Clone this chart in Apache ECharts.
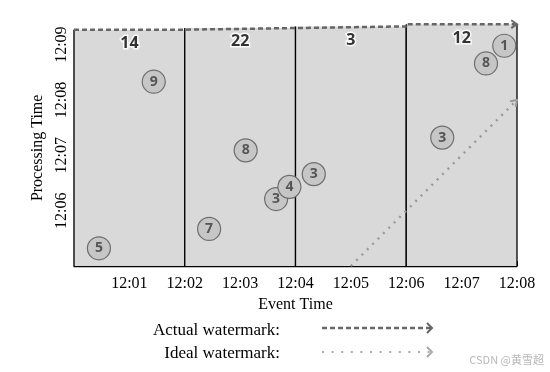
<!DOCTYPE html>
<html><head><meta charset="utf-8">
<script src="https://cdn.jsdelivr.net/npm/echarts@6/dist/echarts.min.js"></script>
<style>html,body{margin:0;padding:0;background:#fff}#c{width:550px;height:372px}</style>
</head><body><div id="c"></div>
<script>
// minutes after 12:00
const xTickLabels = ['', '12:01', '12:02', '12:03', '12:04', '12:05', '12:06', '12:07', '12:08'];
const yTickLabels = { 5: '', 6: '12:06', 7: '12:07', 8: '12:08', 9: '12:09' };
const windowStarts = [0, 2, 4, 6];
const windowEnds = [2, 4, 6, 8];
const windowTops = [9.27, 9.30, 9.33, 9.37];   // actual watermark height per window
const windowSums = [14, 22, 3, 12];
const eventX = [0.45, 1.44, 2.44, 3.10, 3.65, 3.89, 4.33, 6.65, 7.44, 7.77];
const eventY = [5.32, 8.33, 5.67, 7.09, 6.21, 6.43, 6.66, 7.32, 8.66, 8.98];
const eventValues = [5, 9, 7, 8, 3, 4, 3, 3, 8, 1];
const idealX = [5, 8];
const idealY = [5, 8];

const SERIF = '"Liberation Serif", "DejaVu Serif", serif';
const SANS = '"Open Sans", "Noto Sans", sans-serif';

const windowsData = windowStarts.map((s, i) => [s, windowEnds[i], windowTops[i]]);
const actualData = [];
windowStarts.forEach((s, i) => { actualData.push([s, windowTops[i]]); actualData.push([windowEnds[i], windowTops[i]]); });
const idealData = idealX.map((x, i) => [x, idealY[i]]);
const eventsData = eventX.map((x, i) => [x, eventY[i], eventValues[i]]);
const sumsData = windowStarts.map((s, i) => [(s + windowEnds[i]) / 2, windowTops[i] - 0.25, windowSums[i]]);
const arrowData = [
  [actualData[actualData.length - 2], actualData[actualData.length - 1], '#6b6b6b'],
  [idealData[0], idealData[1], '#9a9a9a']
];

const chart = echarts.init(document.getElementById('c'), null, { renderer: 'canvas' });
chart.setOption({
  animation: false,
  backgroundColor: '#fff',
  grid: { left: 74, right: 33, top: 29.7, bottom: 106 },
  xAxis: {
    type: 'value', min: 0, max: 8, interval: 1,
    name: 'Event Time', nameLocation: 'middle', nameGap: 29,
    nameTextStyle: { fontFamily: SERIF, fontSize: 16, color: '#000' },
    axisLine: { show: true, lineStyle: { color: '#000', width: 1.3 } },
    axisTick: { show: true, inside: true, length: 5, lineStyle: { color: '#000', width: 1 } },
    axisLabel: { formatter: v => xTickLabels[v] || '', fontFamily: SERIF, fontSize: 16, color: '#000', margin: 10 },
    splitLine: { show: false }
  },
  yAxis: {
    type: 'value', min: 5, max: 9.27, interval: 1,
    name: 'Processing Time', nameLocation: 'middle', nameGap: 28,
    nameTextStyle: { fontFamily: SERIF, fontSize: 16, color: '#000' },
    axisLine: { show: true, lineStyle: { color: '#000', width: 1.3 } },
    axisTick: { show: true, inside: true, length: 5, lineStyle: { color: '#000', width: 1 } },
    axisLabel: { formatter: v => yTickLabels[v] !== undefined ? yTickLabels[v] : '', rotate: 90, fontFamily: SERIF, fontSize: 16, color: '#000', margin: 4, showMinLabel: false },
    splitLine: { show: false }
  },
  series: [
    {
      type: 'custom', name: 'windows', clip: false, z: 1,
      data: windowsData,
      renderItem: (params, api) => {
        const p0 = api.coord([api.value(0), api.value(2)]);
        const p1 = api.coord([api.value(1), 5]);
        return {
          type: 'group',
          children: [
            { type: 'rect', shape: { x: p0[0], y: p0[1], width: p1[0] - p0[0], height: p1[1] - p0[1] },
              style: { fill: '#d9d9d9' } },
            { type: 'line', shape: { x1: p0[0], y1: p0[1], x2: p0[0], y2: p1[1] }, style: { stroke: '#000', lineWidth: 1.3 } },
            { type: 'line', shape: { x1: p1[0], y1: p0[1], x2: p1[0], y2: p1[1] }, style: { stroke: '#000', lineWidth: 1.3 } }
          ]
        };
      }
    },
    {
      type: 'line', name: 'Actual watermark', data: actualData, clip: false, z: 3,
      symbol: 'none', lineStyle: { color: '#666666', width: 2.5, type: [5, 3] }
    },
    {
      type: 'line', name: 'Ideal watermark', data: idealData, clip: false, z: 3,
      symbol: 'none', lineStyle: { color: '#999999', width: 2.4, type: [2, 5.6] }
    },
    {
      type: 'custom', name: 'arrows', clip: false, z: 4,
      data: arrowData.map(a => [a[0][0], a[0][1], a[1][0], a[1][1]]),
      renderItem: (params, api) => {
        const a = api.coord([api.value(0), api.value(1)]);
        const b = api.coord([api.value(2), api.value(3)]);
        const ang = Math.atan2(b[1] - a[1], b[0] - a[0]);
        const L = 7, w = 0.6;
        const p1 = [b[0] - L * Math.cos(ang - w), b[1] - L * Math.sin(ang - w)];
        const p2 = [b[0] - L * Math.cos(ang + w), b[1] - L * Math.sin(ang + w)];
        return { type: 'polyline', shape: { points: [p1, b, p2] },
          style: { stroke: arrowData[params.dataIndex][2], lineWidth: 2, fill: null } };
      }
    },
    {
      type: 'scatter', name: 'events', data: eventsData, z: 5,
      symbolSize: 23,
      itemStyle: { color: '#c6c6c6', borderColor: '#6e6e6e', borderWidth: 1.2, opacity: 1 },
      label: { show: true, position: 'inside', formatter: p => p.value[2], fontFamily: SANS, fontWeight: 'bold', fontSize: 14, color: '#555' }
    },
    {
      type: 'scatter', name: 'sums', data: sumsData, z: 6, clip: false,
      symbolSize: 1, itemStyle: { color: 'rgba(0,0,0,0)' },
      label: { show: true, position: 'inside', formatter: p => p.value[2], fontFamily: SANS, fontWeight: 'bold', fontSize: 16, color: '#000', textBorderColor: '#fff', textBorderWidth: 3 }
    }
  ],
  graphic: [
    { type: 'text', right: 270, top: 322, style: { text: 'Actual watermark:', font: '17px ' + SERIF, fill: '#000', textAlign: 'right' } },
    { type: 'text', right: 270, top: 345, style: { text: 'Ideal watermark:', font: '17px ' + SERIF, fill: '#000', textAlign: 'right' } },
    { type: 'line', shape: { x1: 322, y1: 328, x2: 431, y2: 328 }, style: { stroke: '#666666', lineWidth: 2.5, lineDash: [5, 3] } },
    { type: 'polyline', shape: { points: [[427, 323], [432, 328], [427, 333]] }, style: { stroke: '#666666', lineWidth: 2, fill: null } },
    { type: 'line', shape: { x1: 322, y1: 352, x2: 431, y2: 352 }, style: { stroke: '#aaaaaa', lineWidth: 2, lineDash: [2, 7.6] } },
    { type: 'polyline', shape: { points: [[427, 347], [432, 352], [427, 357]] }, style: { stroke: '#aaaaaa', lineWidth: 2, fill: null } },
    { type: 'text', right: 6, top: 354, style: { text: 'CSDN @黄雪超', font: '11px "Noto Sans CJK SC", sans-serif', fill: '#b8b8b8' } }
  ]
});
</script></body></html>
